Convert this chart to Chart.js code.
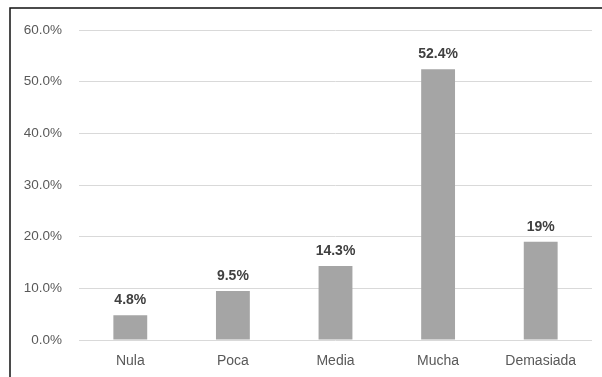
<!DOCTYPE html>
<html>
<head>
<meta charset="utf-8">
<script src="https://cdn.jsdelivr.net/npm/chart.js@4"></script>
<style>
  html, body { margin: 0; padding: 0; background: #fff; }
  #wrap { width: 602px; height: 377px; position: relative; }
</style>
</head>
<body>
<div id="wrap"><canvas id="chart" width="602" height="377"></canvas></div>
<script>
// ——— data ———
const categories = ['Nula', 'Poca', 'Media', 'Mucha', 'Demasiada'];
const values = [4.8, 9.5, 14.3, 52.4, 19];
const valueLabels = ['4.8%', '9.5%', '14.3%', '52.4%', '19%'];

const FONT = '"Liberation Sans", Arial, sans-serif';

// frame lines at top and left (screenshot border)
const framePlugin = {
  id: 'frame',
  afterDraw(chart) {
    const c = chart.ctx;
    c.save();
    c.strokeStyle = '#111';
    c.lineWidth = 1.5;
    c.beginPath();
    c.moveTo(10, 377);
    c.lineTo(10, 8);
    c.lineTo(602, 8);
    c.stroke();
    c.restore();
  }
};

// bold value labels above bars
const valueLabelPlugin = {
  id: 'valueLabels',
  afterDatasetsDraw(chart) {
    const c = chart.ctx;
    const meta = chart.getDatasetMeta(0);
    c.save();
    c.font = 'bold 14px ' + FONT;
    c.fillStyle = '#404040';
    c.textAlign = 'center';
    c.textBaseline = 'middle';
    meta.data.forEach((bar, i) => {
      c.fillText(valueLabels[i], bar.x, bar.y - 15);
    });
    c.restore();
  }
};

new Chart(document.getElementById('chart').getContext('2d'), {
  type: 'bar',
  data: {
    labels: categories,
    datasets: [{ data: values, backgroundColor: '#a5a5a5', barPercentage: 0.33, categoryPercentage: 1 }]
  },
  options: {
    responsive: false,
    animation: false,
    layout: { padding: { top: 30, right: 10, bottom: 0, left: 0 } },
    plugins: { legend: { display: false }, tooltip: { enabled: false } },
    scales: {
      x: {
        grid: { display: false, drawTicks: false },
        border: { display: false },
        ticks: { color: '#595959', padding: 13, font: { size: 14, family: FONT } },
        afterFit: s => { s.height = 37; }
      },
      y: {
        min: 0, max: 60,
        grid: { color: '#d9d9d9', drawTicks: false },
        border: { display: false },
        ticks: {
          stepSize: 10, padding: 17, color: '#595959',
          font: { size: 13.5, family: FONT },
          callback: v => v.toFixed(1) + '%'
        },
        afterFit: s => { s.width = 79; }
      }
    }
  },
  plugins: [framePlugin, valueLabelPlugin]
});
</script>
</body>
</html>
